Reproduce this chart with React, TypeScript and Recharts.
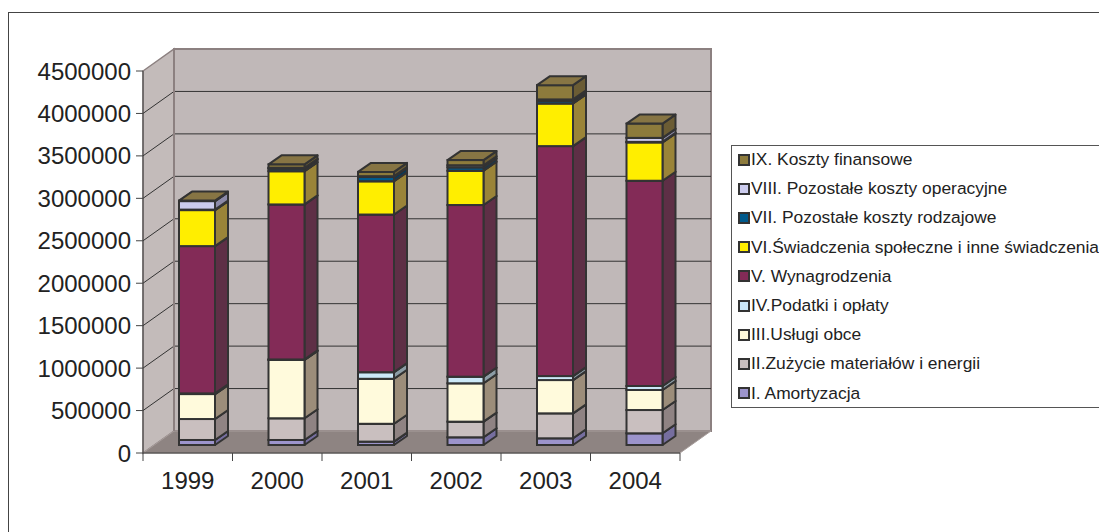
import { BarChart, Bar, XAxis, YAxis, ReferenceArea } from "recharts"

const years = ["1999", "2000", "2001", "2002", "2003", "2004"]

const amortyzacja = [59000, 59000, 40000, 91000, 79000, 138000]
const zuzycie = [247000, 256000, 210000, 184000, 294000, 274000]
const uslugi = [294000, 687000, 530000, 452000, 392000, 236000]
const podatki = [8000, 6000, 78000, 78000, 47000, 47000]
const wynagrodzenia = [1735000, 1826000, 1857000, 2022000, 2709000, 2418000]
const swiadczenia = [424000, 392000, 392000, 404000, 503000, 452000]
const pozostaleRodzajowe = [6000, 30000, 50000, 40000, 30000, 6000]
const pozostaleOperacyjne = [100000, 10000, 10000, 25000, 17000, 47000]
const kosztyFinansowe = [6000, 40000, 50000, 60000, 168000, 168000]

const yTicks = [0, 500000, 1000000, 1500000, 2000000, 2500000, 3000000, 3500000, 4000000, 4500000]
const Y_MAX = 4500000

const series = [
  { key: "am", name: "I. Amortyzacja", values: amortyzacja, front: "#9C94CC", side: "#766E9F", top: "#AAA3D8" },
  { key: "zu", name: "II.Zużycie materiałów i energii", values: zuzycie, front: "#C9BFBF", side: "#8F8383", top: "#D2C9C9" },
  { key: "us", name: "III.Usługi obce", values: uslugi, front: "#FFFADC", side: "#9C8D7A", top: "#FFFBE6" },
  { key: "po", name: "IV.Podatki i opłaty", values: podatki, front: "#CCE8F8", side: "#8C9CA5", top: "#D8EEFA" },
  { key: "wy", name: "V. Wynagrodzenia", values: wynagrodzenia, front: "#832B57", side: "#5E2F46", top: "#8E3A62" },
  { key: "sw", name: "VI.Świadczenia społeczne i inne świadczenia", values: swiadczenia, front: "#FFEE00", side: "#9A8438", top: "#FFF24D" },
  { key: "pr", name: "VII. Pozostałe koszty rodzajowe", values: pozostaleRodzajowe, front: "#005A8C", side: "#0B3A58", top: "#1A6A98" },
  { key: "pop", name: "VIII. Pozostałe koszty operacyjne", values: pozostaleOperacyjne, front: "#CCCCEE", side: "#8C8AA8", top: "#D6D6F2" },
  { key: "kf", name: "IX. Koszty finansowe", values: kosztyFinansowe, front: "#8D7B3C", side: "#6B5C34", top: "#877544" },
]

const data = years.map((year, i) => {
  const row: Record<string, string | number> = { year }
  series.forEach((s) => (row[s.key] = s.values[i]))
  return row
})

// depth of the floor / walls
const DX = 31
const DY = 22
// bar front face sits a bit inside the floor, bar has its own depth
const BAR_DX = 9
const BAR_DY = 8
const BOX_DX = 13
const BOX_DY = 9

function Box3D(props: any) {
  const { x, y, width, height, front, side, top } = props
  if (x == null || y == null || !width || height == null) return null
  const fx = x + BAR_DX
  const fy = y - BAR_DY
  const h = Math.max(height, 0)
  const stroke = "#333"
  return (
    <g>
      <polygon
        points={`${fx + width},${fy} ${fx + width + BOX_DX},${fy - BOX_DY} ${fx + width + BOX_DX},${fy - BOX_DY + h} ${fx + width},${fy + h}`}
        fill={side}
        stroke={stroke}
        strokeWidth={2}
        strokeLinejoin="round"
      />
      <rect x={fx} y={fy} width={width} height={h} fill={front} stroke={stroke} strokeWidth={2} />
      <polygon
        points={`${fx},${fy} ${fx + BOX_DX},${fy - BOX_DY} ${fx + width + BOX_DX},${fy - BOX_DY} ${fx + width},${fy}`}
        fill={top}
        stroke={stroke}
        strokeWidth={2}
        strokeLinejoin="round"
      />
    </g>
  )
}

function Walls(props: any) {
  const { x, y, width, height } = props
  if (x == null || y == null) return null
  const bottom = y + height
  const right = x + width
  const edge = "#8C8080"
  return (
    <g>
      <polygon
        points={`${x},${y} ${x + DX},${y - DY} ${x + DX},${bottom - DY} ${x},${bottom}`}
        fill="#C3BBBA"
        stroke={edge}
        strokeWidth={1.5}
      />
      <rect x={x + DX} y={y - DY} width={width} height={height} fill="#C0B8B8" stroke={edge} strokeWidth={2} />
      <polygon
        points={`${x},${bottom} ${right},${bottom} ${right + DX},${bottom - DY} ${x + DX},${bottom - DY}`}
        fill="#8E8482"
        stroke="#A89E9C"
        strokeWidth={1}
      />
      {yTicks
        .filter((v) => v > 0 && v < Y_MAX)
        .map((v) => {
          const yy = y + height * (1 - v / Y_MAX)
          return (
            <g key={v}>
              <line x1={x} y1={yy} x2={x + DX} y2={yy - DY} stroke="#333" strokeWidth={1} />
              <line x1={x + DX} y1={yy - DY} x2={right + DX} y2={yy - DY} stroke="#333" strokeWidth={1} />
            </g>
          )
        })}
      <line x1={x + DX} y1={y - DY} x2={x + DX} y2={bottom - DY} stroke={edge} strokeWidth={2} />
    </g>
  )
}

function YearTick(props: any) {
  const { x, y, payload, index } = props
  const half = payload && payload.offset ? payload.offset : 44.75
  return (
    <g>
      <line x1={x - half} y1={y} x2={x - half} y2={y + 8} stroke="#444" />
      {index === years.length - 1 && <line x1={x + half} y1={y} x2={x + half} y2={y + 8} stroke="#444" />}
      <text x={x} y={y + 36} textAnchor="middle" fontSize={24} fill="#222">
        {payload.value}
      </text>
    </g>
  )
}

export default function App() {
  return (
    <div
      style={{
        position: "relative",
        width: 1099,
        height: 532,
        overflow: "hidden",
        background: "#fff",
        fontFamily: "'Liberation Sans', Arial, sans-serif",
      }}
    >
      <style>{`body{margin:0}`}</style>
      <div
        style={{
          position: "absolute",
          left: 8,
          top: 12,
          width: 1200,
          height: 600,
          border: "1px solid #444",
        }}
      />
      <div style={{ position: "absolute", left: 0, top: 0 }}>
        <BarChart width={1099} height={532} data={data} margin={{ top: 71, right: 419, bottom: 39, left: 0 }}>
          <ReferenceArea y1={0} y2={Y_MAX} shape={(p: any) => <Walls {...p} />} />
          <XAxis
            dataKey="year"
            height={40}
            tickSize={0}
            tickMargin={0}
            tickLine={false}
            axisLine={{ stroke: "#333" }}
            tick={(p: any) => <YearTick {...p} />}
          />
          <YAxis
            width={143}
            domain={[0, Y_MAX]}
            ticks={yTicks}
            interval={0}
            tickSize={7}
            tickMargin={5}
            axisLine={{ stroke: "#444" }}
            tickLine={{ stroke: "#444" }}
            tick={{ fill: "#222", fontSize: 24 }}
          />
          {series.map((s) => (
            <Bar
              key={s.key}
              dataKey={s.key}
              name={s.name}
              stackId="a"
              fill={s.front}
              barSize={36}
              isAnimationActive={false}
              shape={(p: any) => <Box3D {...p} front={s.front} side={s.side} top={s.top} />}
            />
          ))}
        </BarChart>
      </div>
      <div
        style={{
          position: "absolute",
          left: 731,
          top: 145,
          width: 400,
          height: 261,
          border: "1px solid #555",
          background: "#fff",
        }}
      >
        {[...series].reverse().map((s, i) => (
          <div
            key={s.key}
            style={{
              position: "absolute",
              left: 6,
              top: 3.5 + 29.2 * i,
              height: 20,
              display: "flex",
              alignItems: "center",
              whiteSpace: "nowrap",
            }}
          >
            <span
              style={{
                display: "inline-block",
                width: 8,
                height: 8,
                border: "2px solid #333",
                background: s.front,
                marginRight: 1,
              }}
            />
            <span style={{ fontSize: 17.4, color: "#222" }}>{s.name}</span>
          </div>
        ))}
      </div>
    </div>
  )
}
